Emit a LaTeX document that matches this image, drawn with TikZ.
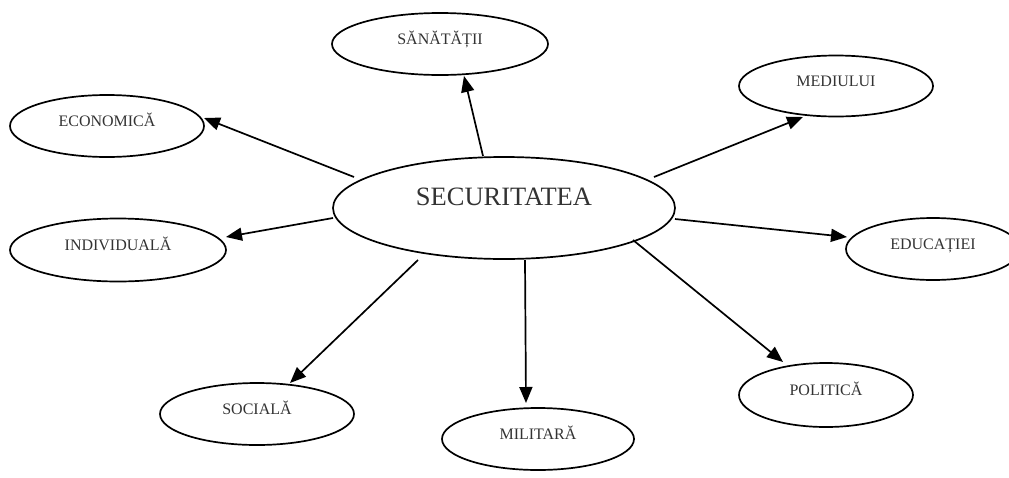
\documentclass[tikz,border=0pt]{standalone}
\usepackage{fontspec}
\setmainfont{Liberation Serif}
\usetikzlibrary{shapes.geometric,arrows.meta,calc}
\definecolor{txtgray}{HTML}{333333}
\begin{document}
\begin{tikzpicture}[x=1pt,y=-1pt,
  ell/.style={ellipse,draw=black,line width=1.7pt,inner sep=0pt,outer sep=0pt,text=txtgray},
  leaf/.style={ell,font=\fontsize{16}{16}\selectfont,text height=10.6pt,text depth=9pt,minimum height=62pt},
  hub/.style={ell,font=\fontsize{26.5}{26.5}\selectfont,text height=17.5pt,text depth=21.9pt,minimum width=342pt,minimum height=102pt},
  arr/.style={line width=1.7pt,-{Triangle[length=16pt,width=13pt]}}]
\fill[white] (0,0) rectangle (1009,477);
\useasboundingbox (0,0) rectangle (1009,477);

\node[hub] (c) at (504,208) {SECURITATEA};
\node[leaf,minimum width=216pt] (san) at (440,44) {SĂNĂTĂȚII};
\node[leaf,minimum width=194pt,minimum height=61pt] (med) at (836,86) {MEDIULUI};
\node[leaf,minimum width=194pt] (eco) at (107,126) {ECONOMICĂ};
\node[leaf,minimum width=216pt,minimum height=63pt] (ind) at (118,250) {INDIVIDUALĂ};
\node[leaf,minimum width=174pt] (edu) at (933,249) {EDUCAȚIEI};
\node[leaf,minimum width=194pt] (soc) at (257,414) {SOCIALĂ};
\node[leaf,minimum width=192pt] (mil) at (538,439) {MILITARĂ};
\node[leaf,minimum width=174pt,minimum height=64pt] (pol) at (826,395) {POLITICĂ};

\draw[arr] ($(c)+(-21,-52)$) -- ($(san)+(24,32)$);
\draw[arr] ($(c)+(150,-31)$) -- ($(med)+(-33,31)$);
\draw[arr] ($(c)+(-150,-31)$) -- ($(eco)+(97,-8)$);
\draw[arr] ($(c)+(-171,10)$) -- ($(ind)+(108,-13)$);
\draw[arr] ($(c)+(171,11)$) -- ($(edu)+(-86,-12)$);
\draw[arr] ($(c)+(129,32)$) -- ($(pol)+(-43,-33)$);
\draw[arr] ($(c)+(21,52)$) -- ($(mil)+(-12,-36)$);
\draw[arr] ($(c)+(-86,52)$) -- ($(soc)+(33,-31)$);
\end{tikzpicture}
\end{document}
